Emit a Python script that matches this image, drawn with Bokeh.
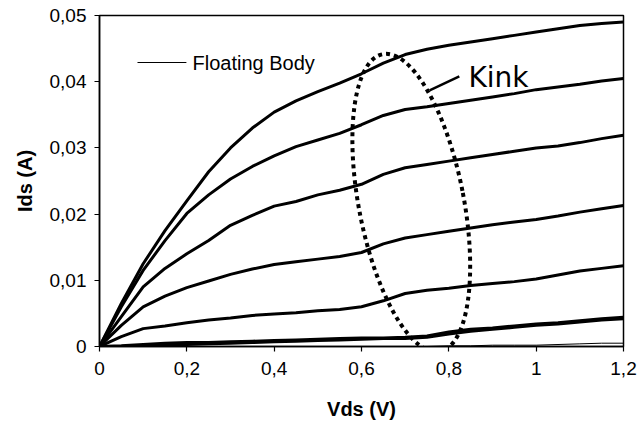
from bokeh.plotting import figure
from bokeh.models import FixedTicker, Range1d
from bokeh.core.properties import value
from bokeh.embed import file_html
from bokeh.resources import INLINE
import math

vds = [0.0, 0.05, 0.1, 0.15, 0.2, 0.25, 0.3, 0.35, 0.4, 0.45, 0.5, 0.55, 0.6,
       0.65, 0.7, 0.75, 0.8, 0.85, 0.9, 0.95, 1.0, 1.05, 1.1, 1.15, 1.2]

ids_1 = [0, 0.0065, 0.0125, 0.0175, 0.022, 0.0264, 0.0300, 0.0330, 0.0354, 0.0371,
         0.0385, 0.0398, 0.0412, 0.0428, 0.0441, 0.0449, 0.0455, 0.0460, 0.0465,
         0.0470, 0.0475, 0.0480, 0.0485, 0.0488, 0.0490]
ids_2 = [0, 0.0060, 0.0115, 0.0160, 0.0201, 0.0229, 0.0253, 0.0272, 0.0288, 0.0302,
         0.0312, 0.0322, 0.0335, 0.0349, 0.0358, 0.0362, 0.0367, 0.0372, 0.0377,
         0.0382, 0.0388, 0.0392, 0.0396, 0.0401, 0.0405]
ids_3 = [0, 0.0045, 0.0090, 0.0118, 0.0140, 0.0160, 0.0183, 0.0198, 0.0212, 0.0219,
         0.0229, 0.0236, 0.0245, 0.0260, 0.0270, 0.0275, 0.0280, 0.0285, 0.0290,
         0.0295, 0.0300, 0.0303, 0.0308, 0.0314, 0.0319]
ids_4 = [0, 0.0032, 0.0060, 0.0076, 0.0089, 0.0099, 0.0109, 0.0117, 0.0124, 0.0128,
         0.0132, 0.0136, 0.0142, 0.0155, 0.0164, 0.0169, 0.0174, 0.0179, 0.0184,
         0.0188, 0.0192, 0.0197, 0.0203, 0.0208, 0.0213]
ids_5 = [0, 0.0015, 0.0027, 0.0031, 0.0036, 0.0040, 0.0043, 0.0047, 0.0049, 0.0051,
         0.0054, 0.0056, 0.0060, 0.0069, 0.0080, 0.0085, 0.0088, 0.0092, 0.0095,
         0.0098, 0.0102, 0.0108, 0.0114, 0.0118, 0.0122]
ids_6 = [0, 0.0001, 0.0003, 0.0005, 0.0006, 0.0006, 0.0007, 0.0008, 0.0009, 0.0010,
         0.0011, 0.0012, 0.0013, 0.0013, 0.0014, 0.0016, 0.0022, 0.0026, 0.0028,
         0.0031, 0.0034, 0.0036, 0.0039, 0.0042, 0.0044]
ids_7 = [0, 0.0000, 0.0001, 0.0002, 0.0003, 0.0004, 0.0005, 0.0006, 0.0007, 0.0008,
         0.0009, 0.0010, 0.0011, 0.0012, 0.0012, 0.0014, 0.0019, 0.0023, 0.0026,
         0.0029, 0.0032, 0.0034, 0.0037, 0.0040, 0.0042]
ids_8 = [0, 0, 0, 0, 0, 0, 0, 0, 0, 0, 0, 0, 0, 0, 0, 0, 0.0001, 0.0001, 0.0002,
         0.0002, 0.0002, 0.0003, 0.0004, 0.0005, 0.0005]

thick_series = [ids_1, ids_2, ids_3, ids_4, ids_5, ids_6, ids_7]

x_ticks = [0, 0.2, 0.4, 0.6, 0.8, 1.0, 1.2]
x_tick_labels = ["0", "0,2", "0,4", "0,6", "0,8", "1", "1,2"]
y_ticks = [0, 0.01, 0.02, 0.03, 0.04, 0.05]
y_tick_labels = ["0", "0,01", "0,02", "0,03", "0,04", "0,05"]

legend_label = "Floating Body"
kink_label = "Kink"

p = figure(width=639, height=425, output_backend="svg", toolbar_location=None,
           x_range=Range1d(0, 1.2), y_range=Range1d(0, 0.05),
           min_border_left=99, min_border_right=16, min_border_top=15,
           min_border_bottom=79)
p.background_fill_color = "white"
p.border_fill_color = "white"
p.outline_line_color = "black"
p.outline_line_width = 1.5
p.xgrid.visible = False
p.ygrid.visible = False

font = "Liberation Sans"
for ax in (p.xaxis[0], p.yaxis[0]):
    ax.axis_line_color = "black"
    ax.axis_line_width = 1.5
    ax.major_tick_line_color = "black"
    ax.major_tick_line_width = 1.2
    ax.major_tick_in = 0
    ax.major_tick_out = 5
    ax.minor_tick_line_color = None
    ax.major_label_text_font = font
    ax.major_label_text_font_size = "19px"
    ax.major_label_text_color = "black"
    ax.axis_label_text_font = font
    ax.axis_label_text_font_size = "20px"
    ax.axis_label_text_font_style = "bold"
    ax.axis_label_text_color = "black"

p.xaxis.ticker = FixedTicker(ticks=x_ticks)
p.xaxis.major_label_overrides = dict(zip(x_ticks, x_tick_labels))
p.yaxis.ticker = FixedTicker(ticks=y_ticks)
p.yaxis.major_label_overrides = dict(zip(y_ticks, y_tick_labels))
p.xaxis.axis_label = "Vds (V)"
p.yaxis.axis_label = "Ids (A)"
p.xaxis.major_label_standoff = 10
p.yaxis.major_label_standoff = 8
p.xaxis.axis_label_standoff = 20
p.yaxis.axis_label_standoff = 11

for s in thick_series:
    p.line(vds, s, line_color="black", line_width=3)
p.line(vds, ids_8, line_color="black", line_width=1)

# legend entry drawn as sample line + text
leg_x = [0.087, 0.199]
leg_y = [0.0429, 0.0429]
p.line(leg_x, leg_y, line_color="black", line_width=1)
p.text(x=[0.213], y=[0.0429], text=[legend_label], text_font=value(font),
       text_font_size="20px", text_baseline="middle", text_align="left",
       text_color="black")

# Kink annotation
p.line([0.756, 0.824], [0.0387, 0.0408], line_color="black", line_width=2.5)
p.text(x=[0.845], y=[0.0406], text=[kink_label], text_font=value("DejaVu Sans"),
       text_font_size="28px", text_baseline="alphabetic", text_align="left",
       text_color="black")

# dotted ellipse around the kink region
p.ellipse(x=[0.714], y=[0.0217], width=105, height=303,
          width_units="screen", height_units="screen",
          angle=math.radians(10.85), fill_color=None, line_color="black",
          line_width=4, line_dash="4 4")

open("out.html", "w").write(file_html(p, INLINE))
